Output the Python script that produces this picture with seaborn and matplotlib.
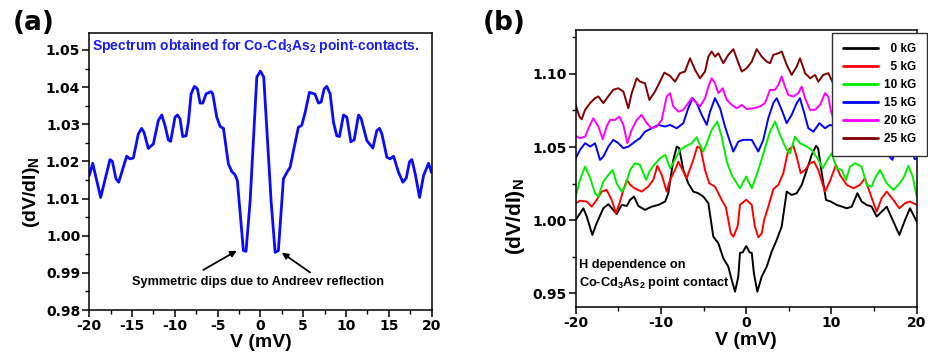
import matplotlib
matplotlib.use('Agg')
import matplotlib.pyplot as plt
from matplotlib.ticker import MultipleLocator, FormatStrFormatter
import numpy as np
import pandas as pd
import seaborn as sns

# ---------------- Panel (a) data ----------------
a_V = [-20, -19.6, -18.67, -17.58, -17.3, -16.88, -16.56, -15.63, -15.24, -14.85,
       -14.27, -13.88, -13.6, -13.1, -12.51, -11.93, -11.53, -11.14, -10.76, -10.49,
       -9.98, -9.7, -9.4, -9.08, -8.69, -8.42, -8.1, -7.72, -7.37, -7.05,
       -6.73, -6.35, -5.77, -5.57, -5.1, -4.71, -4.32, -3.74, -3.35, -2.96,
       -2.69, -1.99, -1.68, -1.2, -0.42, 0.0, 0.39, 1.25, 1.72, 2.1,
       2.69, 3.08, 3.47, 3.86, 4.44, 4.83, 5.23, 5.73, 6.39, 6.78,
       7.1, 7.45, 7.76, 8.15, 8.54, 8.93, 9.24, 9.71, 10.1, 10.57,
       10.96, 11.47, 11.78, 12.44, 13.14, 13.61, 13.92, 14.2, 14.78, 15.17,
       15.56, 16.14, 16.65, 17.04, 17.43, 17.7, 18.1, 18.6, 19.07, 19.65, 20]
a_G = [1.0162, 1.0195, 1.0103, 1.0205, 1.0200, 1.0153, 1.0144, 1.0214, 1.0207, 1.0209,
       1.0274, 1.0289, 1.0278, 1.0235, 1.0247, 1.0310, 1.0325, 1.0296, 1.0258, 1.0254,
       1.0319, 1.0325, 1.0315, 1.0267, 1.0269, 1.0305, 1.0382, 1.0402, 1.0396, 1.0357,
       1.0357, 1.0382, 1.0388, 1.0382, 1.0319, 1.0294, 1.0289, 1.0193, 1.0173, 1.0164,
       1.0148, 0.9960, 0.9958, 1.0094, 1.0427, 1.0443, 1.0427, 1.0094, 0.9955, 0.9960,
       1.0153, 1.0170, 1.0184, 1.0228, 1.0292, 1.0297, 1.0332, 1.0386, 1.0381, 1.0357,
       1.0360, 1.0395, 1.0402, 1.0382, 1.0305, 1.0269, 1.0267, 1.0325, 1.0319, 1.0253,
       1.0258, 1.0325, 1.0315, 1.0256, 1.0236, 1.0283, 1.0289, 1.0274, 1.0211, 1.0207,
       1.0214, 1.0171, 1.0144, 1.0155, 1.0199, 1.0205, 1.0166, 1.0103, 1.0162, 1.0195, 1.0170]

# ---------------- Panel (b) data ----------------
field_labels = ['0 kG', '5 kG', '10 kG', '15 kG', '20 kG', '25 kG']
field_colors = ['#000000', '#ff0000', '#00ee00', '#0000ff', '#ff00ff', '#800000']

V_0 = [-20, -19.1, -18.7, -18.05, -17.54, -16.76, -16.17, -15.6, -15.2, -14.6,
       -14.0, -13.63, -13.16, -12.65, -11.87, -11.1, -10.3, -9.52, -9.14, -8.55,
       -8.15, -7.86, -7.38, -6.8, -6.2, -5.63, -5.03, -4.44, -3.86, -3.27,
       -2.69, -2.1, -1.7, -1.31, -0.93, -0.73, -0.4, 0.0, 0.4, 0.65,
       0.9, 1.3, 1.82, 2.4, 2.99, 3.58, 4.16, 4.75, 5.33, 5.92,
       6.51, 7.1, 7.68, 8.19, 8.44, 8.86, 9.36, 9.92, 10.62, 11.2,
       11.79, 12.37, 13.04, 13.54, 14.13, 14.71, 15.3, 15.69, 16.48, 17.26,
       17.96, 18.63, 19.21, 20]
G_0 = [1.0001, 1.0081, 1.0024, 0.9899, 0.9979, 1.0081, 1.0109, 1.0070, 1.0042, 1.0104,
       1.0097, 1.0138, 1.0161, 1.0097, 1.0070, 1.0092, 1.0104, 1.0127, 1.0184, 1.0412,
       1.0503, 1.0492, 1.0343, 1.0252, 1.0195, 1.0184, 1.0161, 1.0116, 0.9887, 0.9842,
       0.9739, 0.9682, 0.9591, 0.9511, 0.9614, 0.9776, 0.9780, 0.9823, 0.9780, 0.9776,
       0.9637, 0.9511, 0.9614, 0.9682, 0.9785, 0.9865, 0.9956, 1.0195, 1.0172, 1.0184,
       1.0241, 1.0343, 1.0446, 1.0508, 1.0490, 1.0321, 1.0138, 1.0127, 1.0104, 1.0093,
       1.0081, 1.0092, 1.0184, 1.0127, 1.0104, 1.0093, 1.0024, 1.0047, 1.0092, 0.9990,
       0.9899, 1.0001, 1.0081, 0.9990]

V_5 = [-20, -19.5, -18.7, -18.12, -17.54, -16.95, -16.37, -15.78, -15.27, -14.8,
       -14.41, -14.0, -13.6, -13.1, -12.26, -11.5, -10.9, -10.42, -9.9, -9.33,
       -8.94, -8.35, -7.96, -7.57, -6.98, -6.28, -5.74, -5.35, -4.83, -4.33,
       -3.66, -2.87, -2.4, -2.1, -1.82, -1.5, -1.0, -0.73, 0.0, 0.65,
       1.0, 1.42, 1.82, 2.1, 2.59, 3.18, 3.77, 4.35, 4.94, 5.53,
       5.92, 6.39, 6.9, 7.49, 7.96, 8.45, 9.24, 9.8, 10.53, 11.0,
       11.79, 12.57, 13.35, 13.93, 14.52, 15.3, 15.89, 16.48, 17.26, 17.96,
       18.63, 19.2, 20]
G_5 = [1.0116, 1.0133, 1.0127, 1.0092, 1.0138, 1.0195, 1.0207, 1.0138, 1.0047, 1.0127,
       1.0207, 1.0275, 1.0241, 1.0218, 1.0195, 1.0229, 1.0275, 1.0371, 1.0309, 1.0195,
       1.0275, 1.0343, 1.0400, 1.0355, 1.0287, 1.0400, 1.0503, 1.0492, 1.0343, 1.0252,
       1.0229, 1.0138, 1.0090, 1.0001, 0.9910, 0.9887, 0.9960, 1.0104, 1.0140, 1.0104,
       0.9960, 0.9883, 0.9910, 1.0001, 1.0092, 1.0212, 1.0241, 1.0321, 1.0480, 1.0508,
       1.0434, 1.0321, 1.0343, 1.0389, 1.0400, 1.0343, 1.0195, 1.0264, 1.0378, 1.0309,
       1.0241, 1.0218, 1.0241, 1.0287, 1.0184, 1.0058, 1.0150, 1.0195, 1.0138, 1.0081,
       1.0116, 1.0127, 1.0104]

V_10 = [-20, -19.5, -18.9, -18.3, -17.73, -17.34, -16.76, -16.17, -15.66, -15.2,
        -14.6, -14.2, -13.63, -13.04, -12.46, -11.75, -11.36, -10.82, -10.1, -9.5,
        -8.94, -8.35, -7.77, -7.18, -6.39, -5.81, -5.42, -5.03, -4.63, -4.05,
        -3.4, -2.87, -2.28, -1.7, -1.11, -0.73, 0.0, 0.65, 1.42, 2.2,
        2.79, 3.38, 3.96, 4.75, 5.14, 5.73, 6.3, 7.1, 7.68, 8.35,
        8.97, 9.52, 10.03, 10.62, 11.2, 11.7, 12.18, 12.76, 13.54, 14.13,
        14.71, 15.1, 15.69, 16.48, 17.26, 17.85, 18.43, 19.02, 19.53, 20]
G_10 = [1.0161, 1.0275, 1.0366, 1.0287, 1.0184, 1.0161, 1.0264, 1.0309, 1.0343, 1.0252,
        1.0195, 1.0229, 1.0343, 1.0389, 1.0378, 1.0275, 1.0332, 1.0378, 1.0423, 1.0446,
        1.0355, 1.0412, 1.0480, 1.0503, 1.0526, 1.0567, 1.0514, 1.0469, 1.0526, 1.0617,
        1.0674, 1.0571, 1.0400, 1.0309, 1.0252, 1.0218, 1.0298, 1.0218, 1.0343, 1.0492,
        1.0605, 1.0674, 1.0583, 1.0480, 1.0457, 1.0571, 1.0526, 1.0503, 1.0480, 1.0423,
        1.0355, 1.0412, 1.0457, 1.0355, 1.0343, 1.0275, 1.0366, 1.0389, 1.0366, 1.0241,
        1.0229, 1.0287, 1.0343, 1.0252, 1.0207, 1.0241, 1.0287, 1.0371, 1.0298, 1.0161]

V_15 = [-20, -19.5, -18.9, -18.3, -17.73, -17.15, -16.76, -16.17, -15.59, -15.0,
        -14.41, -13.8, -13.04, -12.46, -11.87, -11.1, -10.3, -9.52, -8.94, -8.15,
        -7.38, -6.8, -6.28, -5.81, -5.22, -4.63, -4.24, -3.66, -3.07, -2.49,
        -1.98, -1.51, -0.93, -0.34, 0.25, 0.65, 1.42, 2.0, 2.59, 3.18,
        3.58, 4.16, 4.75, 5.33, 5.92, 6.3, 6.7, 7.29, 7.88, 8.58,
        9.24, 9.8, 10.5, 11.1, 11.9, 12.5, 13.0, 13.8, 14.4, 15.0,
        15.6, 16.2, 16.8, 17.15, 17.7, 18.3, 18.9, 19.5, 19.75, 20]
G_15 = [1.0423, 1.0480, 1.0526, 1.0503, 1.0526, 1.0412, 1.0434, 1.0503, 1.0549, 1.0526,
        1.0492, 1.0503, 1.0537, 1.0560, 1.0605, 1.0628, 1.0651, 1.0640, 1.0651, 1.0628,
        1.0663, 1.0765, 1.0834, 1.0800, 1.0720, 1.0651, 1.0742, 1.0834, 1.0765, 1.0640,
        1.0549, 1.0469, 1.0537, 1.0549, 1.0549, 1.0549, 1.0469, 1.0549, 1.0697, 1.0800,
        1.0834, 1.0754, 1.0663, 1.0720, 1.0800, 1.0834, 1.0754, 1.0628, 1.0605, 1.0663,
        1.0628, 1.0651, 1.0640, 1.0628, 1.0605, 1.0560, 1.0537, 1.0503, 1.0492, 1.0526,
        1.0549, 1.0503, 1.0434, 1.0412, 1.0526, 1.0503, 1.0526, 1.0480, 1.0416, 1.0423]

V_20 = [-20, -19.5, -18.9, -18.32, -17.93, -17.34, -16.83, -16.37, -15.98, -15.4,
        -14.88, -14.41, -13.94, -13.43, -12.85, -12.26, -11.67, -11.1, -10.5, -9.91,
        -9.33, -8.94, -8.55, -7.96, -7.38, -6.8, -6.41, -6.0, -5.42, -4.83,
        -4.44, -4.05, -3.66, -3.27, -2.76, -2.28, -1.7, -1.11, -0.53, 0.06,
        0.85, 1.62, 2.2, 2.79, 3.38, 3.77, 4.16, 4.55, 4.94, 5.53,
        6.1, 6.5, 6.9, 7.49, 8.07, 8.66, 9.24, 9.63, 9.9, 10.5,
        11.1, 11.7, 12.3, 12.9, 13.4, 13.9, 14.4, 14.9, 15.4, 16.0,
        16.4, 16.8, 17.3, 17.9, 18.3, 18.9, 19.5, 20]
G_20 = [1.0576, 1.0560, 1.0571, 1.0651, 1.0697, 1.0640, 1.0553, 1.0640, 1.0685, 1.0685,
        1.0708, 1.0651, 1.0526, 1.0617, 1.0685, 1.0720, 1.0663, 1.0628, 1.0640, 1.0685,
        1.0845, 1.0868, 1.0777, 1.0742, 1.0754, 1.0800, 1.0834, 1.0811, 1.0777, 1.0834,
        1.0913, 1.0970, 1.0936, 1.0868, 1.0902, 1.0822, 1.0788, 1.0765, 1.0788, 1.0760,
        1.0765, 1.0777, 1.0800, 1.0891, 1.0891, 1.0925, 1.0982, 1.0913, 1.0856, 1.0845,
        1.0868, 1.0913, 1.0834, 1.0754, 1.0754, 1.0788, 1.0868, 1.0845, 1.0754, 1.0640,
        1.0628, 1.0663, 1.0720, 1.0685, 1.0617, 1.0526, 1.0651, 1.0708, 1.0685, 1.0685,
        1.0640, 1.0553, 1.0640, 1.0697, 1.0651, 1.0571, 1.0560, 1.0576]

V_25 = [-20, -19.57, -19.3, -18.9, -18.32, -17.73, -17.34, -16.76, -16.2, -15.59,
        -15.0, -14.41, -13.83, -13.43, -12.85, -12.46, -11.87, -11.36, -10.7, -10.11,
        -9.6, -8.94, -8.35, -7.77, -7.18, -6.59, -6.0, -5.42, -4.83, -4.44,
        -4.05, -3.66, -3.27, -2.69, -2.1, -1.51, -1.12, -0.53, 0.06, 0.65,
        1.23, 1.82, 2.4, 2.79, 3.18, 3.77, 4.16, 4.75, 5.33, 5.92,
        6.31, 6.9, 7.49, 8.07, 8.46, 9.04, 9.63, 10.1, 10.7, 11.4,
        11.9, 12.5, 12.9, 13.4, 13.8, 14.4, 15.0, 15.6, 16.2, 16.8,
        17.3, 17.7, 18.3, 18.9, 19.3, 19.6, 20]
G_25 = [1.0788, 1.0708, 1.0690, 1.0754, 1.0800, 1.0834, 1.0846, 1.0800, 1.0845, 1.0891,
        1.0902, 1.0879, 1.0765, 1.0868, 1.0970, 1.0947, 1.0936, 1.0822, 1.0879, 1.0947,
        1.1009, 1.0986, 1.0947, 1.1005, 1.1016, 1.1107, 1.1027, 1.0970, 1.1016, 1.1118,
        1.1153, 1.1118, 1.1141, 1.1073, 1.1130, 1.1169, 1.1107, 1.1016, 1.1039, 1.1084,
        1.1169, 1.1118, 1.1084, 1.1073, 1.1130, 1.1141, 1.1153, 1.1062, 1.0993, 1.1050,
        1.1107, 1.1005, 1.0970, 1.0993, 1.0947, 1.0993, 1.1005, 1.0947, 1.0880, 1.0822,
        1.0936, 1.0947, 1.0970, 1.0870, 1.0765, 1.0880, 1.0900, 1.0890, 1.0845, 1.0800,
        1.0850, 1.0830, 1.0800, 1.0750, 1.0690, 1.0710, 1.0790]

b_V = [V_0, V_5, V_10, V_15, V_20, V_25]
b_G = [G_0, G_5, G_10, G_15, G_20, G_25]

# ---------------- styling ----------------
sns.set_style('ticks')
plt.rcParams['font.family'] = ['Liberation Sans', 'DejaVu Sans']
plt.rcParams['font.weight'] = 'bold'
plt.rcParams['axes.unicode_minus'] = False
plt.rcParams['mathtext.fontset'] = 'custom'
plt.rcParams['mathtext.rm'] = 'Liberation Sans:bold'
plt.rcParams['mathtext.it'] = 'Liberation Sans:bold'
plt.rcParams['mathtext.bf'] = 'Liberation Sans:bold'
plt.rcParams['mathtext.default'] = 'rm'
plt.rcParams['axes.edgecolor'] = 'black'
plt.rcParams['xtick.color'] = 'black'
plt.rcParams['ytick.color'] = 'black'
plt.rcParams['text.color'] = 'black'
plt.rcParams['axes.labelcolor'] = 'black'

fig = plt.figure(figsize=(9.29, 3.62), dpi=100)
ax1 = fig.add_axes([0.0961, 0.1436, 0.3684, 0.7666])
ax2 = fig.add_axes([0.6197, 0.1511, 0.3671, 0.7660])

def style_axes(ax):
    for s in ax.spines.values():
        s.set_linewidth(1.1)
        s.set_color('black')
    ax.tick_params(which='major', direction='out', length=5, width=1.1, pad=1.5,
                   labelsize=10, labelfontfamily='DejaVu Sans')
    ax.tick_params(which='minor', direction='out', length=3, width=1.0)
    ax.tick_params(top=False, right=False, which='both')
    for lab in ax.get_xticklabels() + ax.get_yticklabels():
        lab.set_fontweight('bold')

# ---- Panel (a)
df_a = pd.DataFrame({'V': a_V, 'G': a_G})
sns.lineplot(data=df_a, x='V', y='G', ax=ax1, color='#0a0aff', lw=2.0,
             estimator=None, sort=False)
ax1.set_xlim(-20, 20)
ax1.set_ylim(0.98, 1.0547)
ax1.xaxis.set_major_locator(MultipleLocator(5))
ax1.xaxis.set_minor_locator(MultipleLocator(2.5))
ax1.yaxis.set_major_locator(MultipleLocator(0.01))
ax1.yaxis.set_minor_locator(MultipleLocator(0.005))
ax1.yaxis.set_major_formatter(FormatStrFormatter('%.2f'))
ax1.xaxis.set_major_formatter(FormatStrFormatter('%d'))
style_axes(ax1)
ax1.set_xlabel('V (mV)', fontsize=14, fontweight='bold')
ax1.set_ylabel('(dV/dI)$_N$', fontsize=14, fontweight='bold')
ax1.xaxis.set_label_coords(0.5, -0.088)
ax1.yaxis.set_label_coords(-0.138, 0.426)
ax1.text(0.007, 0.985, 'Spectrum obtained for Co-Cd$_3$As$_2$ point-contacts.',
         transform=ax1.transAxes, color='#1a1aff', fontsize=10, fontweight='bold',
         ha='left', va='top')
ax1.text(-0.27, 0.9868, 'Symmetric dips due to Andreev reflection', fontsize=9.2,
         fontweight='bold', ha='center', va='baseline')
arrow_kw = dict(arrowstyle='-|>', color='black', lw=1.3, mutation_scale=9,
                shrinkA=0, shrinkB=0)
ax1.annotate('', xy=(-2.76, 0.99596), xytext=(-6.67, 0.9908), arrowprops=arrow_kw)
ax1.annotate('', xy=(2.5, 0.99545), xytext=(5.81, 0.99011), arrowprops=arrow_kw)

# ---- Panel (b)
frames = []
for lab, vv, gg in zip(field_labels, b_V, b_G):
    frames.append(pd.DataFrame({'V': vv, 'G': gg, 'field': lab}))
df_b = pd.concat(frames, ignore_index=True)
sns.lineplot(data=df_b, x='V', y='G', hue='field', hue_order=field_labels,
             palette=field_colors, ax=ax2, lw=1.4, estimator=None, sort=False)
ax2.set_xlim(-20, 20)
ax2.set_ylim(0.9404, 1.130)
ax2.xaxis.set_major_locator(MultipleLocator(10))
ax2.xaxis.set_minor_locator(MultipleLocator(5))
ax2.yaxis.set_major_locator(MultipleLocator(0.05))
ax2.yaxis.set_minor_locator(MultipleLocator(0.025))
ax2.yaxis.set_major_formatter(FormatStrFormatter('%.2f'))
ax2.xaxis.set_major_formatter(FormatStrFormatter('%d'))
style_axes(ax2)
ax2.set_xlabel('V (mV)', fontsize=14, fontweight='bold')
ax2.set_ylabel('(dV/dI)$_N$', fontsize=15, fontweight='bold')
ax2.xaxis.set_label_coords(0.5, -0.09)
ax2.yaxis.set_label_coords(-0.143, 0.326)
ax2.text(0.010, 0.175, 'H dependence on\nCo-Cd$_3$As$_2$ point contact',
         transform=ax2.transAxes, fontsize=9.2, fontweight='bold',
         ha='left', va='top', linespacing=1.35)

handles, labels = ax2.get_legend_handles_labels()
leg_labels = ['\u2007' + l if len(l) == 4 else l for l in labels]
leg = ax2.legend(handles, leg_labels, loc='upper left', bbox_to_anchor=(0.752, 0.99),
                 borderaxespad=0, fancybox=False, framealpha=1, edgecolor='#333333',
                 prop={'weight': 'bold', 'size': 8.5}, handlelength=3.0,
                 handletextpad=0.5, borderpad=0.9, labelspacing=0.5)
leg.get_frame().set_linewidth(1.0)
for h in leg.get_lines():
    h.set_linewidth(2.0)

fig.text(0.014, 0.972, '(a)', fontsize=19, fontweight='bold', family='DejaVu Sans',
         ha='left', va='top')
fig.text(0.520, 0.972, '(b)', fontsize=19, fontweight='bold', family='DejaVu Sans',
         ha='left', va='top')

fig.savefig('out.png', dpi=100)
